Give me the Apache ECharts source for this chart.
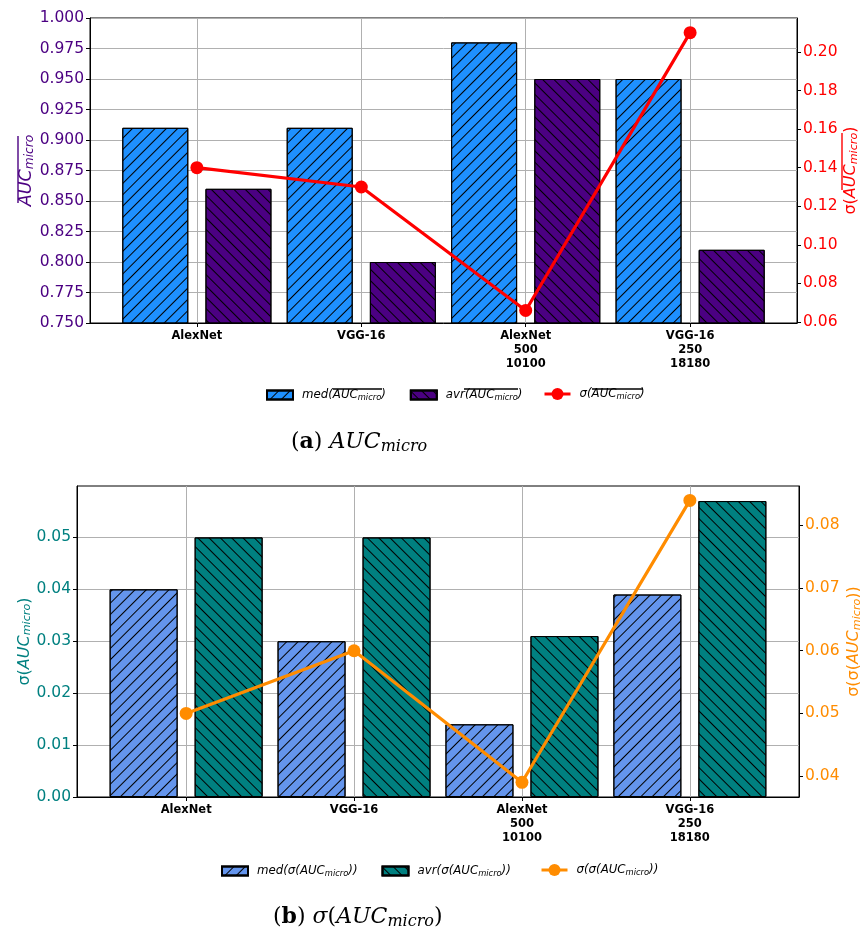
<!DOCTYPE html>
<html>
<head>
<meta charset="utf-8">
<script src="https://cdn.jsdelivr.net/npm/echarts@6/dist/echarts.min.js"></script>
<style>
html,body{margin:0;padding:0;background:#fff;overflow:hidden;}
#chart{width:860px;height:936px;}
</style>
</head>
<body>
<div id="chart"></div>
<script>
// ---- data ----
var categories = ['AlexNet', 'VGG-16', 'AlexNet\n500\n10100', 'VGG-16\n250\n18180'];
var aMed = [0.91, 0.91, 0.98, 0.95];
var aAvr = [0.86, 0.80, 0.95, 0.81];
var aSigma = [0.14, 0.13, 0.066, 0.21];
var bMed = [0.040, 0.030, 0.014, 0.039];
var bAvr = [0.050, 0.050, 0.031, 0.057];
var bSigma = [0.050, 0.060, 0.039, 0.084];
var aLeftTicks = [0.75, 0.775, 0.8, 0.825, 0.85, 0.875, 0.9, 0.925, 0.95, 0.975, 1.0];
var aRightTicks = [0.06, 0.08, 0.10, 0.12, 0.14, 0.16, 0.18, 0.20];
var bLeftTicks = [0.00, 0.01, 0.02, 0.03, 0.04, 0.05];
var bRightTicks = [0.04, 0.05, 0.06, 0.07, 0.08];

function pairs(arr) { return arr.map(function (v, i) { return [i, v]; }); }

var FONT = 'DejaVu Sans';
var SERIF = 'DejaVu Serif';
var INDIGO = '#4B0082', RED = '#FF0000', TEAL = '#008080', ORANGE = '#FF8C00';

function hatch(rot) {
  return { symbol: 'rect', symbolSize: 1, dashArrayX: [1, 0], dashArrayY: [1, 6.8], rotation: rot, color: '#000' };
}

function xAxisFor(gi) {
  return {
    type: 'value', gridIndex: gi, min: -0.65, max: 3.65,
    axisLine: { show: true, onZero: false, lineStyle: { color: '#000', width: 1 } },
    axisTick: { show: true, length: 4, lineStyle: { color: '#000' }, customValues: [0, 1, 2, 3] },
    axisLabel: {
      customValues: [0, 1, 2, 3],
      formatter: function (v) { var r = Math.round(v); return Math.abs(v - r) < 1e-6 && r >= 0 && r < categories.length ? categories[r] : ''; },
      fontFamily: FONT, fontWeight: 'bold', fontSize: 11.5, color: '#000', lineHeight: 14, margin: 6
    },
    splitLine: { show: true, lineStyle: { color: '#b0b0b0', width: 1 } }
  };
}

function numAxis(gi, pos, min, max, ticks, color, dec, interval, split, nameRich, nameGap, nfs) {
  return {
    type: 'value', gridIndex: gi, position: pos, min: min, max: max,
    interval: interval,
    axisLine: { show: true, onZero: false, lineStyle: { color: '#000', width: 1 } },
    axisTick: { show: true, length: 4, lineStyle: { color: '#000' }, customValues: ticks },
    axisLabel: {
      customValues: ticks,
      formatter: function (v) { return v.toFixed(dec); },
      fontFamily: FONT, fontSize: 15.5, color: color, margin: 6
    },
    splitLine: { show: split, lineStyle: { color: '#b0b0b0', width: 1 } },
    name: nameRich, nameLocation: 'middle', nameGap: nameGap, nameRotate: 90, nameMoveOverlap: false,
    nameTextStyle: {
      color: color, fontFamily: FONT, fontSize: nfs, fontStyle: 'italic',
      rich: {
        i: { fontFamily: FONT, fontSize: nfs, fontStyle: 'italic', color: color },
        s: { fontFamily: FONT, fontSize: nfs * 0.7, fontStyle: 'italic', color: color, verticalAlign: 'bottom', padding: [nfs * 0.35, 0, 0, 0] },
        n: { fontFamily: FONT, fontSize: nfs, fontStyle: 'normal', color: color }
      }
    }
  };
}

var legendRich = {
  sp: { width: 4 },
  n: { fontFamily: FONT, fontSize: 11.8, fontStyle: 'italic', color: '#000' },
  s: { fontFamily: FONT, fontSize: 8.3, fontStyle: 'italic', color: '#000', padding: [5, 0, 0, 0] }
};

var legendNames = {
  aMed: '{sp|}{n|med(AUC}{s|micro}{n|)}',
  aAvr: '{sp|}{n|avr(AUC}{s|micro}{n|)}',
  aSig: '{sp|}{n|σ(AUC}{s|micro}{n|)}',
  bMed: '{sp|}{n|med(σ(AUC}{s|micro}{n|))}',
  bAvr: '{sp|}{n|avr(σ(AUC}{s|micro}{n|))}',
  bSig: '{sp|}{n|σ(σ(AUC}{s|micro}{n|))}'
};

var capRich = {
  b: { fontFamily: SERIF, fontSize: 22, fontWeight: 'bold', color: '#000' },
  r: { fontFamily: SERIF, fontSize: 22, color: '#000' },
  i: { fontFamily: SERIF, fontSize: 22, fontStyle: 'italic', color: '#000' },
  s: { fontFamily: SERIF, fontSize: 16, fontStyle: 'italic', color: '#000', padding: [9, 0, 0, 0] }
};

function oline(x1, y1, x2, y2, c) {
  return { type: 'line', shape: { x1: x1, y1: y1, x2: x2, y2: y2 }, style: { stroke: c, lineWidth: 1.4 }, z: 100 };
}

function legendBox(left, top, names, h, isLine) {
  return {
    left: left, top: top, padding: 0, itemWidth: 26, itemHeight: h, itemGap: 24,
    data: names.map(function (n) {
      return isLine ? { name: n, lineStyle: { width: 3 } } : { name: n, icon: 'rect' };
    }),
    textStyle: { rich: legendRich }
  };
}

var option = {
  animation: false,
  backgroundColor: '#fff',
  grid: [
    { left: 90, right: 63, top: 18, height: 305, show: true, borderColor: '#000', borderWidth: 1, backgroundColor: 'transparent', outerBoundsMode: 'none', containLabel: false },
    { left: 77, right: 61, top: 486, height: 311, show: true, borderColor: '#000', borderWidth: 1, backgroundColor: 'transparent', outerBoundsMode: 'none', containLabel: false }
  ],
  legend: [
    legendBox(266, 389, [legendNames.aMed, legendNames.aAvr], 9, false),
    legendBox(543, 388, [legendNames.aSig], 15, true),
    legendBox(221, 865, [legendNames.bMed, legendNames.bAvr], 9, false),
    legendBox(540, 864, [legendNames.bSig], 15, true)
  ],
  xAxis: [xAxisFor(0), xAxisFor(1)],
  yAxis: [
    numAxis(0, 'left', 0.75, 1.0, aLeftTicks, INDIGO, 3, 0.025, true, '{i|AUC}{s|micro}', 54, 17.5),
    numAxis(0, 'right', 0.0595, 0.2176, aRightTicks, RED, 2, null, false, '{n|σ(}{i|AUC}{s|micro}{n|)}', 46, 16),
    numAxis(1, 'left', 0, 0.0599, bLeftTicks, TEAL, 2, 0.01, true, '{n|σ(}{i|AUC}{s|micro}{n|)}', 44, 16),
    numAxis(1, 'right', 0.03665, 0.0863, bRightTicks, ORANGE, 2, null, false, '{n|σ(σ(}{i|AUC}{s|micro}{n|))}', 47, 16)
  ],
  series: [
    { name: legendNames.aMed, type: 'bar', xAxisIndex: 0, yAxisIndex: 0, data: pairs(aMed), barWidth: 66, barGap: '26%',
      itemStyle: { color: '#1E90FF', borderColor: '#000', borderWidth: 1, decal: hatch(-Math.PI / 4) }, z: 2 },
    { name: legendNames.aAvr, type: 'bar', xAxisIndex: 0, yAxisIndex: 0, data: pairs(aAvr), barWidth: 66, barGap: '26%',
      itemStyle: { color: INDIGO, borderColor: '#000', borderWidth: 1, decal: hatch(Math.PI / 4) }, z: 2 },
    { name: legendNames.aSig, type: 'line', xAxisIndex: 0, yAxisIndex: 1, data: pairs(aSigma),
      symbol: 'circle', symbolSize: 13, lineStyle: { color: RED, width: 3.2 }, itemStyle: { color: RED }, z: 5 },
    { name: legendNames.bMed, type: 'bar', xAxisIndex: 1, yAxisIndex: 2, data: pairs(bMed), barWidth: 68, barGap: '25%',
      itemStyle: { color: '#6495ED', borderColor: '#000', borderWidth: 1, decal: hatch(-Math.PI / 4) }, z: 2 },
    { name: legendNames.bAvr, type: 'bar', xAxisIndex: 1, yAxisIndex: 2, data: pairs(bAvr), barWidth: 68, barGap: '25%',
      itemStyle: { color: TEAL, borderColor: '#000', borderWidth: 1, decal: hatch(Math.PI / 4) }, z: 2 },
    { name: legendNames.bSig, type: 'line', xAxisIndex: 1, yAxisIndex: 3, data: pairs(bSigma),
      symbol: 'circle', symbolSize: 13, lineStyle: { color: ORANGE, width: 3.2 }, itemStyle: { color: ORANGE }, z: 5 }
  ],
  graphic: [
    { type: 'text', left: 291, top: 431, style: { text: '{r|(}{b|a}{r|) }{i|AUC}{s|micro}', rich: capRich } },
    { type: 'text', left: 273, top: 906, style: { text: '{r|(}{b|b}{r|) }{i|σ}{r|(}{i|AUC}{s|micro}{r|)}', rich: capRich } },
    oline(18, 136, 18, 203, INDIGO),
    oline(842, 133, 842, 190, RED),
    oline(333, 389, 382, 389, '#000'),
    oline(464, 389, 518, 389, '#000'),
    oline(592, 389, 643, 389, '#000')
  ]
};

var chart = echarts.init(document.getElementById('chart'), null, { renderer: 'canvas' });
chart.setOption(option);
</script>
</body>
</html>
